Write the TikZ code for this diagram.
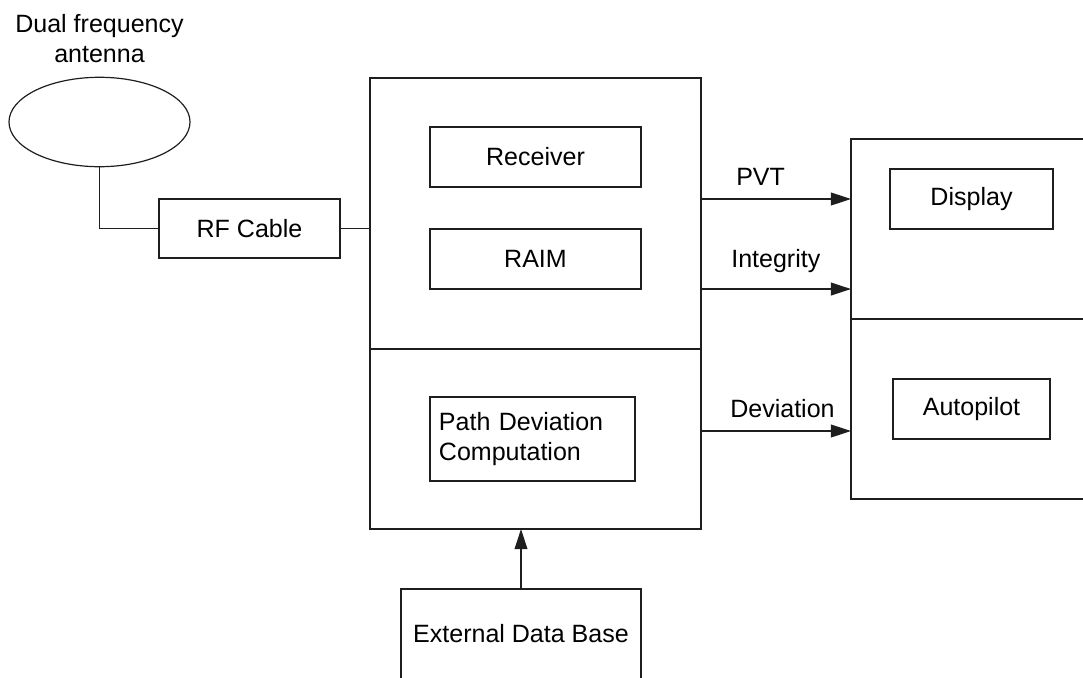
\documentclass[tikz,border=0pt]{standalone}
\usepackage{fontspec}
\setmainfont{Liberation Sans}
\usepackage{tikz}
\usetikzlibrary{
  shapes.geometric,
  arrows.meta,
  positioning,
  calc
}
\usepackage{xcolor}
\definecolor{linecol}{RGB}{30, 30, 30}
\newcommand{\diagfont}{\fontsize{17.8}{21.3}\selectfont}
\tikzset{
  blk/.style={
    draw=linecol, line width=0.85pt, inner sep=0pt, outer sep=0pt,
    align=center, font=\diagfont
  },
  frame/.style={
    draw=linecol, line width=0.85pt, inner sep=0pt, outer sep=0pt
  },
  antshape/.style={
    ellipse, draw=linecol, line width=0.85pt, inner sep=0pt,
    minimum width=4.525cm, minimum height=2.235cm
  },
  txt/.style={
    inner sep=0pt, align=center, font=\diagfont
  },
  lbl/.style={
    inner sep=0pt, anchor=base west, font=\diagfont
  },
  wire/.style={draw=linecol, line width=0.85pt},
  arr/.style={
    draw=linecol, line width=0.85pt,
    -{Triangle[length=0.5cm, width=0.32cm]}
  },
}

\begin{document}
\begin{tikzpicture}[x=0.025cm, y=-0.025cm]
\useasboundingbox (0,0) rectangle (1083,677);

% ── Antenna and cable ─────────────────────────────────────────────────────────
\node[txt, anchor=north] (antlbl) at (99.5,14) {Dual frequency\\antenna};
\node[antshape] (ant) at (99.5,122) {};
\node[blk, minimum width=4.525cm, minimum height=1.475cm] (rf) at (249.5,228.5)
  {RF Cable};

% ── Main unit ─────────────────────────────────────────────────────────────────
\node[frame, minimum width=8.275cm, minimum height=6.775cm] (unit)
  at (535.5,213.5) {};
\node[frame, minimum width=8.275cm, minimum height=4.5cm,
      below=0pt of unit] (unitlow) {};

\node[blk, minimum width=5.275cm, minimum height=1.5cm] (rcv) at (535.5,157)
  {Receiver};
\node[blk, minimum width=5.275cm, minimum height=1.5cm,
      below=1.05cm of rcv] (raim) {RAIM};
\node[blk, minimum height=2.1cm, text width=4.675cm, inner xsep=0.225cm,
      align=left] (pdc) at (532.5,439) {Path Deviation\\Computation};

% ── Display / autopilot unit ──────────────────────────────────────────────────
\node[frame, minimum width=6.025cm, minimum height=4.5cm] (dispunit)
  at (971.5,229) {};
\node[frame, minimum width=6.025cm, minimum height=4.5cm,
      below=0pt of dispunit] (aplunit) {};

\node[blk, minimum width=4.075cm, minimum height=1.5cm] (disp) at (971.5,199)
  {Display};
\node[blk, minimum width=3.925cm, minimum height=1.5cm] (apl) at (971.5,409)
  {Autopilot};

% ── External data base ────────────────────────────────────────────────────────
\node[blk, minimum width=6cm, minimum height=2.25cm] (edb) at (521,634)
  {External Data Base};

% ── Connections ───────────────────────────────────────────────────────────────
\coordinate (devy) at (0,431);

\draw[wire] (ant.south) |- (rf.west);
\draw[wire] (rf.east) -- (rf.east -| unit.west);

\draw[arr] (disp -| unit.east)       -- (disp -| dispunit.west);
\draw[arr] (raim.south -| unit.east) -- (raim.south -| dispunit.west);
\draw[arr] (devy -| unitlow.east)    -- (devy -| aplunit.west);
\draw[arr] (edb.north) -- (edb.north |- unitlow.south);

% ── Signal labels ─────────────────────────────────────────────────────────────
\node[lbl] (pvtlbl) at (736,185) {PVT};
\node[lbl] (intlbl) at (731,267) {Integrity};
\node[lbl] (devlbl) at (730,417) {Deviation};

\end{tikzpicture}
\end{document}
